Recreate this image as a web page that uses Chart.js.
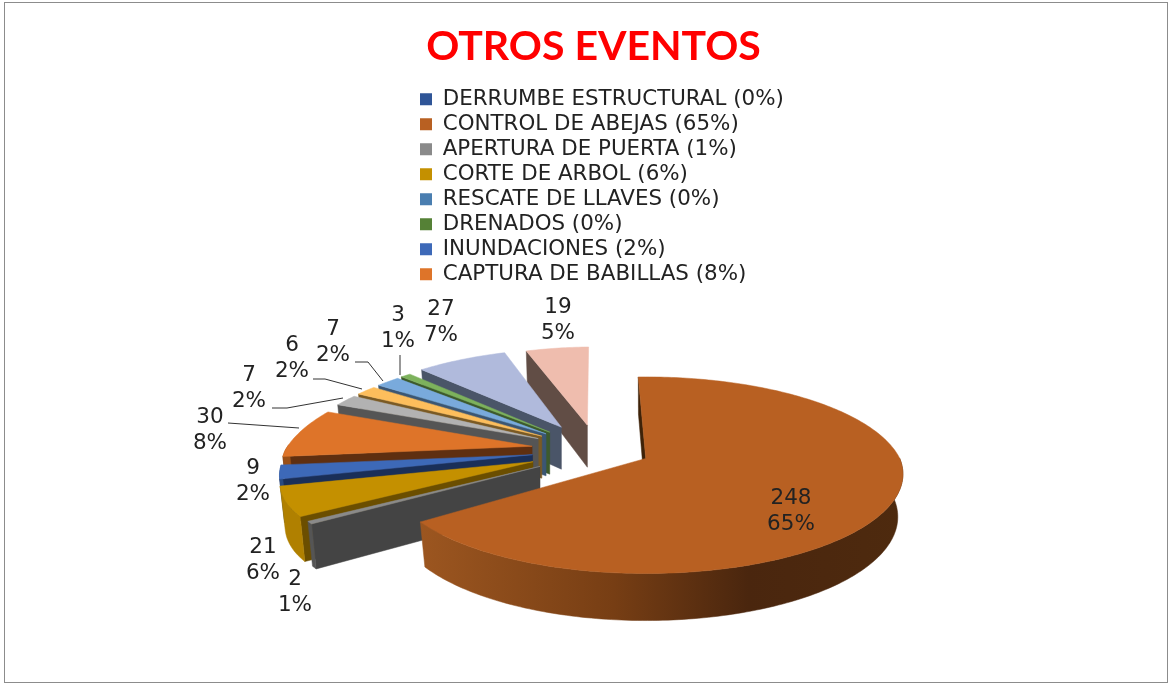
<!DOCTYPE html>
<html><head><meta charset="utf-8">
<style>html,body{margin:0;padding:0;background:#fff}canvas{display:block}</style>
<script src="https://cdn.jsdelivr.net/npm/chart.js@4"></script>
</head><body>
<canvas id="c" width="1173" height="684"></canvas>
<script>
// ---- data ----
const categories = ["DERRUMBE ESTRUCTURAL","CONTROL DE ABEJAS","APERTURA DE PUERTA","CORTE DE ARBOL","RESCATE DE LLAVES","DRENADOS","INUNDACIONES","CAPTURA DE BABILLAS","OTRO 1","OTRO 2","OTRO 3","OTRO 4","OTRO 5","OTRO 6"];
const values = [0,248,2,21,0,0,9,30,7,6,7,3,27,19];
const legendCount = 8;
// ---- style ----
const topColors  = ["#2F5597","#B86022","#8A8A8A","#C49000","#4A7EB0","#558136","#3D69B8","#DE7429","#B2B2B2","#FDBE5C","#79AADC","#7DB25C","#B0BADC","#EFBDAE"];
const wallColors = ["#1A2F55","#3E2208","#444444","#6B4E00","#294560","#2F481E","#1A2F58","#5F2F10","#555555","#7A5A24","#3B5673","#3D5A2C","#4A5568","#614D45"];
const rimColors  = ["#1A2F55","#7A3F14","#555555","#B08000","#294560","#2F481E","#2A4A80","#9A5018","#6A6A6A","#A07A30","#4F7090","#4F7A38","#6A7590","#8A6A60"];
const mainRimStops = [[0,"#9C5620"],[0.4,"#773E14"],[0.68,"#4A260E"],[1,"#4E2A0E"]];
const explosion  = [0,0.20,0.29,0.29,0,0,0.27,0.27,0.27,0.27,0.27,0.27,0.28,0.26];
const labelPos = {1:[791,498],2:[295,579],3:[263,547],6:[253,468],7:[210,417],8:[249,375],9:[292,345],10:[333,329],11:[398,315],12:[441,309],13:[558,307]};
const leaders = {7:[[228,423],[299,428]],8:[[272,408],[287,408],[343,398]],9:[[313,379],[325,379],[362,389]],10:[[355,362],[368,362],[383,381]],11:[[400,355],[400,375]]};
const view = {cx:600, cy:450, rx:254, rxMinor:247, ry:97, perspBack:0.19, perspFront:0.157, vanishX:630, depth:42, rotation:-2};
const FONT = "'DejaVu Sans', sans-serif";
const TITLE_FONT = "Lato, 'Open Sans', sans-serif";

const total = values.reduce((a,b)=>a+b,0);
const pct = v => Math.round(v/total*100);
const legendLabels = categories.map((c,i)=>`${c} (${pct(values[i])}%)`);

const pie3d = {
  id:'pie3d',
  afterLayout(chart){
    const t = chart.titleBlock, l = chart.legend;
    t.left = 7; t.right = 1180; t.width = 1173;
    t.top = 22; t.bottom = t.top + t.height;
    const w = l.width, h = l.height;
    l.left = 416.4; l.right = 416.4 + w; l.top = 85; l.bottom = 85 + h;
  },
  beforeDraw(chart){
    const g = chart.ctx; g.save();
    g.fillStyle = '#fff'; g.fillRect(0,0,1173,684);
    g.strokeStyle = '#8c8c8c'; g.lineWidth = 1;
    g.strokeRect(4.5,2.5,1163,680);
    g.restore();
  },
  beforeDatasetDraw(chart){
    const g = chart.ctx, meta = chart.getDatasetMeta(0);
    const V = view;
    const biggest = Math.max(...values);
    const slices = meta.data.map((el,i)=>{
      const p = el.getProps(['startAngle','endAngle']);
      const mid = (p.startAngle+p.endAngle)/2;
      const e = explosion[i];
      return {i, e, a0:p.startAngle, a1:p.endAngle, dv:Math.sin(mid), du:Math.cos(mid),
        ax:V.cx+e*V.rx*Math.cos(mid), ay:V.cy+e*V.ry*Math.sin(mid), v:values[i]};
    }).filter(s=>s.v>0);
    slices.sort((a,b)=>(a.v===biggest?9:a.dv)-(b.v===biggest?9:b.dv));
    for(const s of slices){
      const isMain = s.v===biggest;
      const R = isMain ? V.rx : V.rxMinor;
      const top = a=>{
        const u=Math.cos(a), v=Math.sin(a);
        const W = Math.min(v, v + s.e*s.dv);
        const f = 1/(1-(W<0?V.perspBack:V.perspFront)*W);
        if(isMain) return [s.ax+R*u*f, s.ay+V.ry*v*f, v];
        return [V.vanishX+(s.ax+R*u-V.vanishX)*f, s.ay+V.ry*v*(W<0?f:1), v];
      };
      const bot = P=>[s.ax+(P[0]-s.ax)*0.98, P[1]+V.depth*(1+0.12*P[2])];
      const apexT=[s.ax,s.ay,0], apexB=bot(apexT);
      const poly=(pts,fill)=>{g.beginPath();pts.forEach((q,k)=>k?g.lineTo(q[0],q[1]):g.moveTo(q[0],q[1]));g.closePath();g.fillStyle=fill;g.fill();g.strokeStyle=fill;g.lineWidth=0.5;g.stroke();};
      const wall=a=>{const P=top(a);poly([apexT,P,bot(P),apexB],wallColors[s.i]);};
      if(-Math.sin(s.a0+Math.PI/2)>0) wall(s.a0);
      if(Math.sin(s.a1+Math.PI/2)>0) wall(s.a1);
      const n=Math.max(2,Math.ceil((s.a1-s.a0)/(Math.PI/180)));
      const arc=[];for(let k=0;k<=n;k++)arc.push(top(s.a0+(s.a1-s.a0)*k/n));
      const front=arc.filter(q=>q[2]>-0.02);
      if(front.length>1){
        let fill=rimColors[s.i];
        if(isMain){
          const xs=front.map(q=>q[0]);
          const gr=g.createLinearGradient(Math.min(...xs),0,Math.max(...xs),0);
          mainRimStops.forEach(st=>gr.addColorStop(st[0],st[1]));
          fill=gr;
        }
        poly(front.concat(front.slice().reverse().map(bot)),fill);
      }
      poly([apexT].concat(arc),topColors[s.i]);
    }
    return false;
  },
  afterDatasetsDraw(chart){
    const g=chart.ctx; g.save();
    g.strokeStyle='#333'; g.lineWidth=1;
    Object.values(leaders).forEach(L=>{g.beginPath();L.forEach((q,k)=>k?g.lineTo(q[0],q[1]):g.moveTo(q[0],q[1]));g.stroke();});
    g.fillStyle='#222'; g.font=`21.5px ${FONT}`; g.textAlign='center'; g.textBaseline='middle';
    Object.keys(labelPos).forEach(k=>{const [x,y]=labelPos[k];
      g.fillText(String(values[k]),x,y);
      g.fillText(pct(values[k])+'%',x,y+26);});
    g.restore();
  }
};

new Chart(document.getElementById('c'),{
  type:'pie',
  data:{labels:legendLabels,datasets:[{data:values,backgroundColor:topColors,borderWidth:0}]},
  options:{
    responsive:false,animation:false,rotation:view.rotation,
    plugins:{
      tooltip:{enabled:false},
      title:{display:true,text:'OTROS EVENTOS',color:'#FF0000',padding:{top:0,bottom:0},
        font:{family:TITLE_FONT,size:41,weight:'bold',lineHeight:1.2}},
      legend:{display:true,position:'left',align:'start',
        labels:{color:'#222',boxWidth:12,boxHeight:12,padding:3.6,
          font:{family:FONT,size:21.4,lineHeight:1},
          filter:(item)=>item.index<legendCount}}
    }
  },
  plugins:[pie3d]
});
</script>
</body></html>
